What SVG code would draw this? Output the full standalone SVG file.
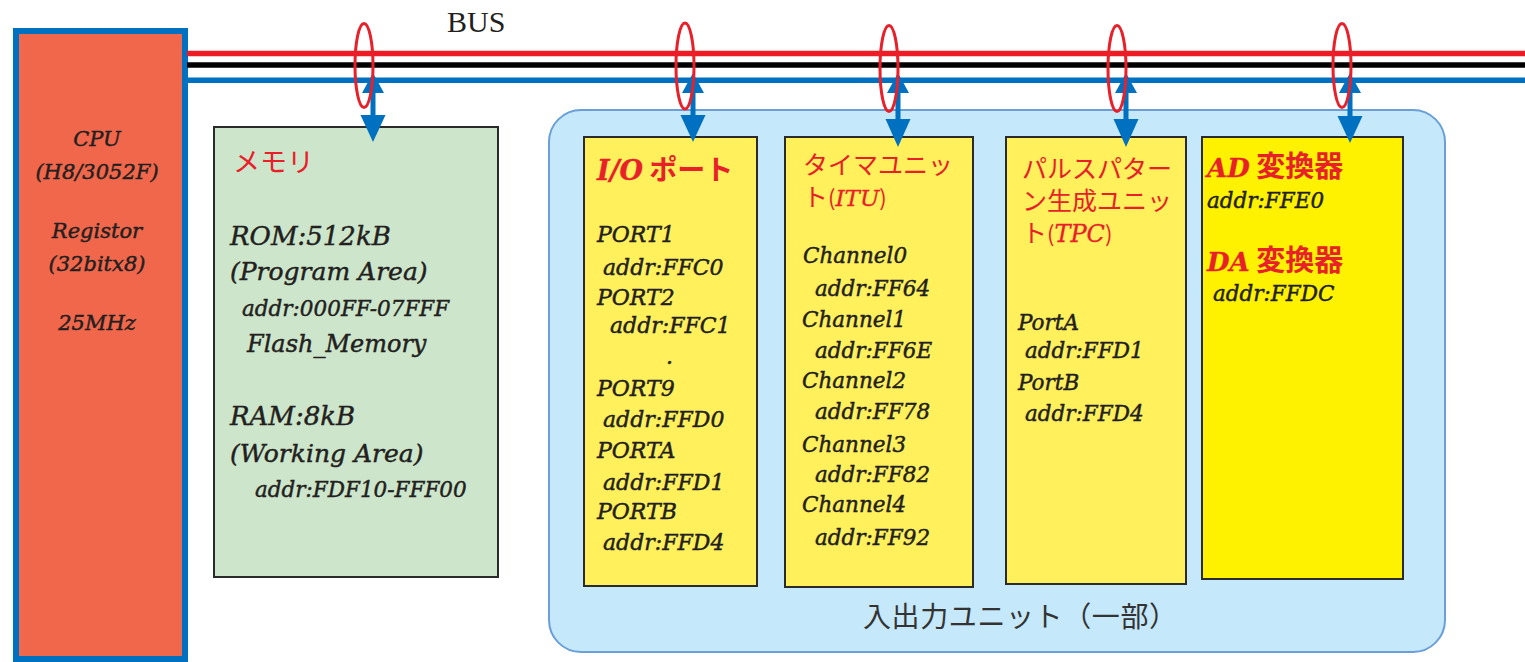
<svg xmlns="http://www.w3.org/2000/svg" width="1525" height="662" viewBox="0 0 1525 662">
  <style>
    .box{stroke:#2b2b2b;stroke-width:2}
    .mem{fill:#CDE6CB}
    .yel{fill:#FFF05C}
    .yel2{fill:#FFF200}
    .t{font-family:"DejaVu Serif","Liberation Serif",serif;font-style:italic;fill:#231F20;stroke:#231F20;stroke-width:0.45}
    .jp{font-family:"Noto Sans CJK JP",sans-serif;font-style:normal;stroke:none}
    .red{fill:#E8202A}
    .t.red{stroke:#E8202A;stroke-width:0.3}
    .c{text-anchor:middle}
    .bus{fill:none;stroke-width:5.5}
    .tap{fill:none;stroke:#E8202A;stroke-width:3}
    .arr{fill:#0070C0}
  </style>
  <rect width="1525" height="662" fill="#FFFFFF"/>

  <!-- CPU -->
  <g id="cpu">
    <rect x="16" y="31" width="169" height="628" fill="#F1674B" stroke="#0070C0" stroke-width="6"/>
    <g class="t c" font-size="21">
      <text x="97" y="146">CPU</text>
      <text x="97" y="179">(H8/3052F)</text>
      <text x="97" y="238">Registor</text>
      <text x="97" y="271">(32bitx8)</text>
      <text x="97" y="330">25MHz</text>
    </g>
  </g>

  <!-- memory -->
  <g id="memory">
    <rect class="box mem" x="214" y="127" width="284" height="450"/>
    <text class="jp red" x="233" y="172" font-size="27">メモリ</text>
    <g class="t">
      <text x="230" y="245" font-size="26">ROM:512kB</text>
      <text x="230" y="280" font-size="25">(Program Area)</text>
      <text x="242" y="316" font-size="21.5">addr:000FF-07FFF</text>
      <text x="247" y="352" font-size="24">Flash_Memory</text>
      <text x="230" y="425" font-size="26">RAM:8kB</text>
      <text x="230" y="462" font-size="25">(Working Area)</text>
      <text x="255" y="497" font-size="21.5">addr:FDF10-FFF00</text>
    </g>
  </g>

  <!-- I/O unit container -->
  <g id="io-unit">
    <rect x="549" y="110" width="896" height="542" rx="32" fill="#C5E8FA" stroke="#6A9FD8" stroke-width="2"/>
    <text class="jp" x="863" y="627" font-size="28" fill="#333333" letter-spacing="0.6">入出力ユニット（一部）</text>
  </g>

  <!-- I/O ports -->
  <g id="io-port">
    <rect class="box yel" x="584" y="137" width="173" height="449"/>
    <text class="red" x="597" y="180" font-size="27"><tspan class="t red" font-weight="bold">I/O</tspan><tspan class="jp" font-weight="bold" font-size="28"> ポート</tspan></text>
    <g class="t" font-size="22">
      <text x="597" y="242">PORT1</text>
      <text x="603" y="275">addr:FFC0</text>
      <text x="597" y="305">PORT2</text>
      <text x="610" y="333">addr:FFC1</text>
      <text x="666" y="364">.</text>
      <text x="597" y="396">PORT9</text>
      <text x="603" y="427">addr:FFD0</text>
      <text x="597" y="458">PORTA</text>
      <text x="603" y="490">addr:FFD1</text>
      <text x="597" y="519">PORTB</text>
      <text x="603" y="550">addr:FFD4</text>
    </g>
  </g>

  <!-- timer unit -->
  <g id="itu">
    <rect class="box yel" x="785" y="137" width="188" height="450"/>
    <text class="jp red" x="803" y="174" font-size="25">タイマユニッ</text>
    <text class="jp red" x="803" y="206" font-size="25">ト<tspan font-size="22">(</tspan><tspan class="t red" font-size="23">ITU</tspan><tspan font-size="22">)</tspan></text>
    <g class="t" font-size="21.5">
      <text x="803" y="263">Channel0</text>
      <text x="815" y="296">addr:FF64</text>
      <text x="802" y="327">Channel1</text>
      <text x="815" y="358">addr:FF6E</text>
      <text x="802" y="388">Channel2</text>
      <text x="815" y="419">addr:FF78</text>
      <text x="802" y="452">Channel3</text>
      <text x="815" y="482">addr:FF82</text>
      <text x="802" y="512">Channel4</text>
      <text x="815" y="545">addr:FF92</text>
    </g>
  </g>

  <!-- pulse pattern generator -->
  <g id="tpc">
    <rect class="box yel" x="1006" y="137" width="180" height="447"/>
    <text class="jp red" x="1022" y="178" font-size="25">パルスパター</text>
    <text class="jp red" x="1022" y="210" font-size="25">ン生成ユニッ</text>
    <text class="jp red" x="1022" y="242" font-size="25">ト<tspan font-size="22">(</tspan><tspan class="t red" font-size="24">TPC</tspan><tspan font-size="22">)</tspan></text>
    <g class="t" font-size="21.5">
      <text x="1018" y="330">PortA</text>
      <text x="1025" y="358">addr:FFD1</text>
      <text x="1018" y="390">PortB</text>
      <text x="1025" y="421">addr:FFD4</text>
    </g>
  </g>

  <!-- AD / DA converters -->
  <g id="adda">
    <rect class="box yel2" x="1202" y="137" width="201" height="442"/>
    <text class="red" x="1207" y="177" font-size="26"><tspan class="t red" font-weight="bold">AD</tspan><tspan class="jp" font-weight="bold" font-size="29"> 変換器</tspan></text>
    <text class="t" x="1207" y="208" font-size="21.5">addr:FFE0</text>
    <text class="red" x="1207" y="271" font-size="26"><tspan class="t red" font-weight="bold">DA</tspan><tspan class="jp" font-weight="bold" font-size="29"> 変換器</tspan></text>
    <text class="t" x="1213" y="301" font-size="21.5">addr:FFDC</text>
  </g>

  <!-- bus and taps -->
  <g id="connectors">
    <text x="447" y="32" font-family="'Liberation Serif',serif" font-size="30" fill="#231F20">BUS</text>
    <line class="bus" x1="187" y1="53.5" x2="1525" y2="53.5" stroke="#ED1C24"/>
    <line class="bus" x1="187" y1="65" x2="1525" y2="65" stroke="#000000"/>
    <line class="bus" x1="187" y1="80.3" x2="1525" y2="80.3" stroke="#0070C0"/>

    <g class="arr">
      <g transform="translate(373,0)">
        <rect x="-2.5" y="88" width="5" height="30"/>
        <polygon points="-11,93 11,93 0,73"/>
        <polygon points="-12.5,115 12.5,115 0,142"/>
      </g>
      <g transform="translate(693,0)">
        <rect x="-2.5" y="88" width="5" height="30"/>
        <polygon points="-11,93 11,93 0,73"/>
        <polygon points="-12.5,115 12.5,115 0,142"/>
      </g>
      <g transform="translate(898,0)">
        <rect x="-2.5" y="88" width="5" height="34"/>
        <polygon points="-11,93 11,93 0,73"/>
        <polygon points="-12.5,119 12.5,119 0,147"/>
      </g>
      <g transform="translate(1126,0)">
        <rect x="-2.5" y="88" width="5" height="34"/>
        <polygon points="-11,93 11,93 0,73"/>
        <polygon points="-12.5,119 12.5,119 0,147"/>
      </g>
      <g transform="translate(1350,0)">
        <rect x="-2.5" y="88" width="5" height="30"/>
        <polygon points="-11,93 11,93 0,73"/>
        <polygon points="-12.5,116 12.5,116 0,143"/>
      </g>
    </g>

    <ellipse class="tap" cx="364" cy="65.5" rx="9" ry="42"/>
    <ellipse class="tap" cx="685" cy="66" rx="9" ry="43"/>
    <ellipse class="tap" cx="889" cy="68.5" rx="9" ry="43"/>
    <ellipse class="tap" cx="1117" cy="68.5" rx="9" ry="43"/>
    <ellipse class="tap" cx="1342" cy="65.5" rx="9" ry="42"/>
  </g>
</svg>
